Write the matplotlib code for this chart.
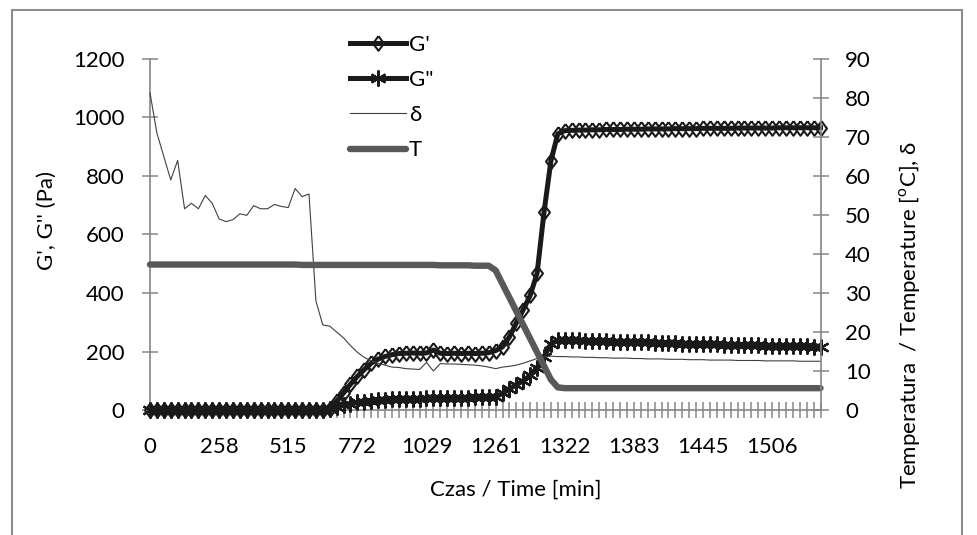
import matplotlib.pyplot as plt
from matplotlib.patches import Rectangle

plt.rcParams['font.family'] = ['Lato', 'DejaVu Sans']
plt.rcParams['mathtext.fontset'] = 'custom'
plt.rcParams['mathtext.rm'] = 'Lato'

# category labels of the time axis (one label every 10 samples)
time_labels = ['0', '258', '515', '772', '1029', '1261', '1322', '1383', '1445', '1506']
label_every = 10

# G' (Pa)
g_storage = [0, 0, 0, 0, 0, 0, 0, 0, 0, 0,
             0, 0, 0, 0, 0, 0, 0, 0, 0, 0,
             0, 0, 0, 0, 0, 0, 4, 30, 58, 88,
             115, 138, 160, 174, 183, 189, 193, 194, 195, 194,
             195, 205, 194, 193, 194, 193, 194, 193, 194, 196,
             203, 216, 250, 298, 343, 392, 467, 676, 852, 944,
             955, 956, 957, 957, 958, 958, 959, 959, 959, 960,
             960, 960, 961, 961, 961, 961, 962, 962, 962, 962,
             963, 963, 963, 963, 963, 964, 964, 964, 964, 964,
             964, 965, 965, 965, 965, 965, 965, 965]

# G'' (Pa)
g_loss = [0, 0, 0, 0, 0, 0, 0, 0, 0, 0,
          0, 0, 0, 0, 0, 0, 0, 0, 0, 0,
          0, 0, 0, 0, 0, 0, 3, 10, 17, 22,
          26, 29, 31, 33, 35, 36, 37, 38, 38, 39,
          40, 41, 40, 41, 41, 42, 42, 43, 43, 44,
          46, 57, 72, 87, 100, 118, 145, 182, 226, 238,
          240, 239, 238, 237, 236, 236, 235, 234, 233, 233,
          232, 231, 231, 230, 229, 229, 228, 227, 227, 226,
          225, 225, 224, 223, 223, 222, 222, 221, 221, 220,
          220, 219, 219, 218, 218, 218, 217, 217]

# delta (deg), right axis
delta = [81.3, 71, 65, 59, 64, 51.6, 53, 51.6, 55, 53,
         49, 48.3, 48.8, 50.3, 49.9, 52.4, 51.6, 51.6, 52.7, 52.2,
         51.9, 56.8, 54.7, 55.4, 28, 21.8, 21.5, 20, 18.5, 16.5,
         14.8, 13.5, 12.6, 12, 11.5, 11, 10.9, 10.6, 10.5, 10.4,
         12.2, 10.0, 11.9, 11.8, 11.8, 11.7, 11.6, 11.5, 11.3, 11.0,
         10.6, 11.0, 11.2, 11.5, 12.0, 12.6, 13.2, 13.6, 13.8, 13.7,
         13.7, 13.6, 13.6, 13.5, 13.5, 13.4, 13.4, 13.3, 13.3, 13.3,
         13.2, 13.2, 13.1, 13.1, 13.1, 13.0, 13.0, 13.0, 12.9, 12.9,
         12.9, 12.8, 12.8, 12.8, 12.8, 12.7, 12.7, 12.7, 12.7, 12.6,
         12.6, 12.6, 12.6, 12.6, 12.5, 12.5, 12.5, 12.5]

# temperature (C), right axis
temp = [37.3, 37.3, 37.3, 37.3, 37.3, 37.3, 37.3, 37.3, 37.3, 37.3,
        37.3, 37.3, 37.3, 37.3, 37.3, 37.3, 37.3, 37.3, 37.3, 37.3,
        37.3, 37.3, 37.2, 37.2, 37.2, 37.2, 37.2, 37.2, 37.2, 37.2,
        37.2, 37.2, 37.2, 37.2, 37.2, 37.2, 37.2, 37.2, 37.2, 37.2,
        37.2, 37.2, 37.1, 37.1, 37.1, 37.1, 37.1, 37.0, 37.0, 37.0,
        35.8, 32.3, 28.8, 25.3, 21.8, 18.3, 14.8, 11.3, 7.8, 5.8,
        5.6, 5.6, 5.6, 5.6, 5.6, 5.6, 5.6, 5.6, 5.6, 5.6,
        5.6, 5.6, 5.6, 5.6, 5.6, 5.6, 5.6, 5.6, 5.6, 5.6,
        5.6, 5.6, 5.6, 5.6, 5.6, 5.6, 5.6, 5.6, 5.6, 5.6,
        5.6, 5.6, 5.6, 5.6, 5.6, 5.6, 5.6, 5.6]

W, H = 977, 535
axis_color = '#868686'
fs = 16

n = len(g_storage)
x = list(range(n))
cat_labels = ['' for _ in x]
for k, lab in enumerate(time_labels):
    cat_labels[k * label_every] = lab

# slightly tall diamond, like the Excel marker
diamond = [(0, 1), (0.75, 0), (0, -1), (-0.75, 0), (0, 1)]

fig = plt.figure(figsize=(W / 100, H / 100), dpi=100)
ax = fig.add_axes([150 / W, 1 - 410 / H, (820.5 - 150) / W, (410 - 59) / H])
ax2 = ax.twinx()

# markers first, the thick line goes over them
m1, = ax.plot(x, g_storage, ls='none', marker=diamond, ms=10.5, mfc='white',
              mec='#1a1a1a', mew=1.5, clip_on=False, zorder=3)
l1, = ax.plot(x, g_storage, color='#1a1a1a', lw=3.6, clip_on=False, zorder=3.1)
m2, = ax.plot(x, g_loss, ls='none', marker=(6, 2, 0), ms=11.5,
              mec='#1a1a1a', mew=1.6, clip_on=False, zorder=3)
l2, = ax.plot(x, g_loss, color='#1a1a1a', lw=3.6, clip_on=False, zorder=3.1)
l3, = ax2.plot(x, delta, color='#404040', lw=0.8, clip_on=False)
l4, = ax2.plot(x, temp, color='#595959', lw=4.6, solid_capstyle='round', clip_on=False)

ax.set_xlim(0, n - 1)
ax.set_ylim(0, 1200)
ax.set_yticks(range(0, 1201, 200))
ax2.set_ylim(0, 90)
ax2.set_yticks(range(0, 91, 10))
ax.set_xticks(x)
ax.set_xticklabels(cat_labels)
ax.set_axisbelow(True)

for a in (ax, ax2):
    for s in a.spines.values():
        s.set_color(axis_color)
        s.set_linewidth(1.2)
    a.spines['top'].set_visible(False)
ax.spines['right'].set_visible(False)
ax2.spines['left'].set_visible(False)
ax2.spines['bottom'].set_visible(False)

ax.tick_params(axis='x', direction='inout', length=11, width=1.1,
               color=axis_color, labelsize=fs, pad=14)
ax.tick_params(axis='y', direction='inout', length=11.5, width=1.1,
               color=axis_color, labelsize=fs, pad=12.5)
ax2.tick_params(axis='y', direction='inout', length=11.5, width=1.1,
                color=axis_color, labelsize=fs, pad=12)

fig.text(516 / W, 1 - 490 / H, 'Czas / Time [min]', ha='center', va='center', fontsize=fs)
fig.text(47 / W, 1 - 220 / H, "G', G'' (Pa)", ha='center', va='center',
         rotation=90, fontsize=fs)
fig.text(910 / W, 1 - 315 / H, 'Temperatura  / Temperature [$^{\\mathrm{o}}$C], δ',
         ha='center', va='center', rotation=90, fontsize=fs)

fig.legend(handles=[(m1, l1), (m2, l2), l3, l4], labels=["G'", 'G"', 'δ', 'T'],
           loc='upper left', bbox_to_anchor=(350 / W, 1 - 35 / H), frameon=False,
           fontsize=fs, handlelength=2.5, handletextpad=0.15, labelspacing=0.68,
           borderpad=0, borderaxespad=0)

fig.patches.append(Rectangle((12 / W, -0.1), (962 - 12) / W, 1.1 - 10 / H,
                             transform=fig.transFigure, fill=False,
                             edgecolor='#8c8c8c', lw=1.5))

fig.savefig('out.png', dpi=100)
